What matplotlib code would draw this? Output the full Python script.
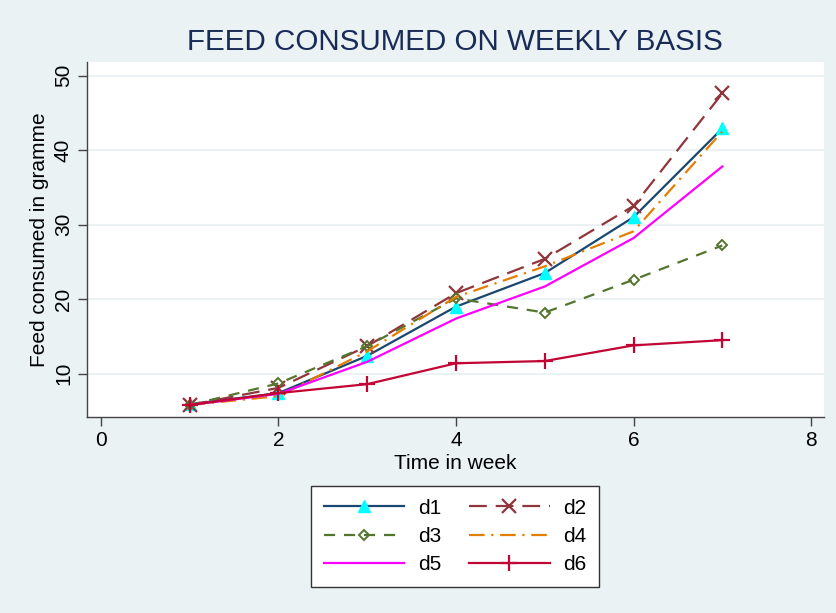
import numpy as np
import matplotlib
matplotlib.use("Agg")
import matplotlib.pyplot as plt

plt.rcParams['font.family'] = ['Liberation Sans', 'DejaVu Sans']

# data
weeks = [1, 2, 3, 4, 5, 6, 7]
d1 = [5.9, 7.4, 12.4, 19.0, 23.5, 31.0, 42.9]
d2 = [5.8, 8.1, 13.7, 20.8, 25.4, 32.5, 47.6]
d3 = [5.8, 8.7, 13.7, 20.1, 18.2, 22.6, 27.2]
d4 = [5.8, 7.0, 13.0, 20.3, 24.4, 29.1, 42.5]
d5 = [5.8, 7.3, 11.6, 17.4, 21.7, 28.2, 37.8]
d6 = [5.8, 7.4, 8.6, 11.4, 11.7, 13.8, 14.5]

x_ticks = [0, 2, 4, 6, 8]
y_ticks = [10, 20, 30, 40, 50]

bg = '#eaf2f3'

fig = plt.figure(figsize=(8.37, 6.13), dpi=100, facecolor=bg)
ax = fig.add_axes([0.1045, 0.3202, 0.88, 0.5791])
ax.set_facecolor('white')

ax.plot(weeks, d1, color='#1a476f', lw=1.6, marker='^', ms=9,
        mfc='#00ffff', mec='#00ffff', label='d1')
ax.plot(weeks, d2, color='#90353b', lw=1.6, dashes=(8, 4), marker='x', ms=10,
        mew=1.6, label='d2')
ax.plot(weeks, d3, color='#55752f', lw=1.6, dashes=(5, 4), marker='D', ms=5.5,
        mfc='none', mew=1.4, label='d3')
ax.plot(weeks, d4, color='#e37e00', lw=1.6, dashes=(7, 3, 1, 3), label='d4')
ax.plot(weeks, d5, color='#ff00ff', lw=1.6, label='d5')
ax.plot(weeks, d6, color='#c10534', lw=1.6, marker='+', ms=11, mew=1.6,
        label='d6')

ax.set_xlim(-0.152, 8.146)
ax.set_ylim(4.23, 51.85)
ax.set_xticks(x_ticks)
ax.set_yticks(y_ticks)

ax.grid(axis='y', color=bg, lw=1.5)
ax.set_axisbelow(True)
for side in ['top', 'right']:
    ax.spines[side].set_visible(False)
for side in ['left', 'bottom']:
    ax.spines[side].set_color('#444444')
    ax.spines[side].set_linewidth(1.0)

ax.tick_params(axis='both', length=6.5, width=1.0, color='#444444',
               labelsize=15, pad=4)
plt.setp(ax.get_yticklabels(), rotation=90, va='center')

ax.set_xlabel('Time in week', fontsize=15)
ax.set_ylabel('Feed consumed in gramme', fontsize=15)
ax.xaxis.set_label_coords(0.5, -0.105)
ax.yaxis.set_label_coords(-0.052, 0.5)

fig.text(0.5435, 0.932, 'FEED CONSUMED ON WEEKLY BASIS', fontsize=21.3,
         color='#1a2b58', ha='center', va='center')

# legend laid out row by row: d1 d2 / d3 d4 / d5 d6
handles, labels = ax.get_legend_handles_labels()
order = [0, 2, 4, 1, 3, 5]
leg = fig.legend([handles[i] for i in order], [labels[i] for i in order],
                 loc='center', bbox_to_anchor=(0.544, 0.125), ncol=2,
                 fontsize=15, handlelength=3.85, handletextpad=0.67,
                 columnspacing=1.35, labelspacing=0.45, fancybox=False,
                 framealpha=1, edgecolor='#333333', borderpad=0.6)
leg.get_frame().set_linewidth(1.0)

fig.savefig('out.png', dpi=100, facecolor=bg)
